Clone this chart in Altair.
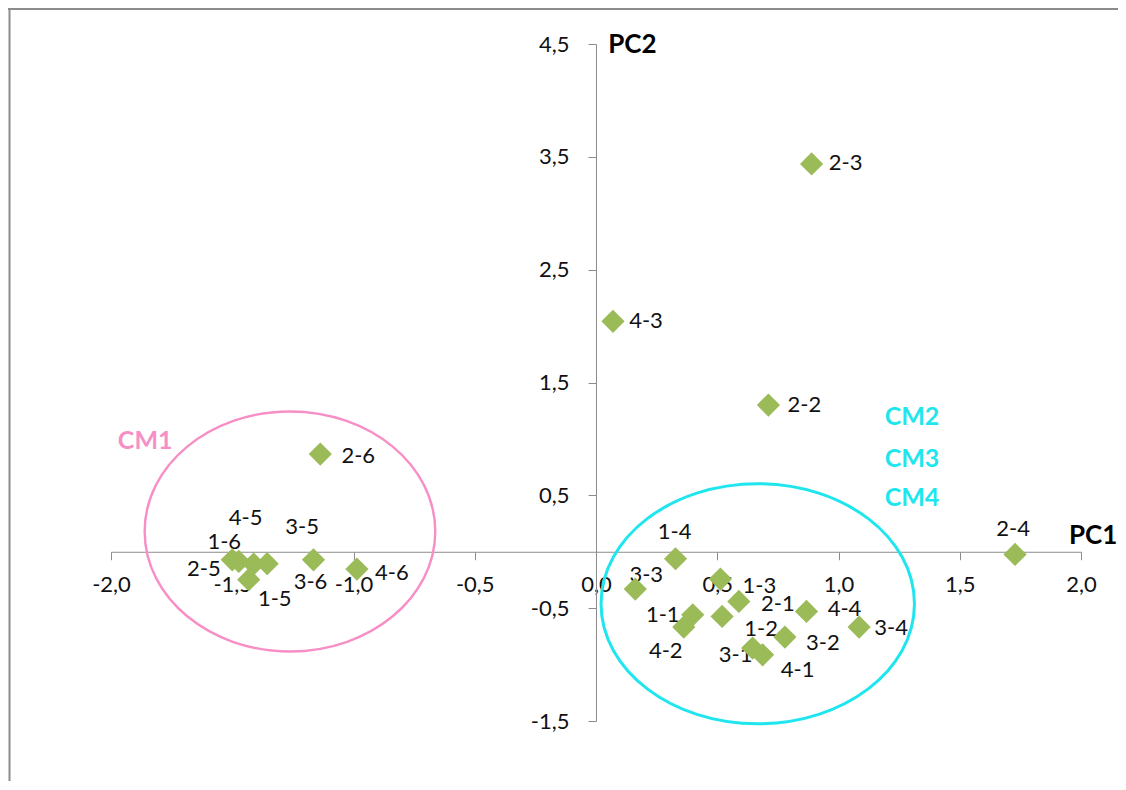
import altair as alt
import pandas as pd

# ---------------- data ----------------
names = ["1-1", "1-2", "1-3", "1-4", "1-5", "1-6",
         "2-1", "2-2", "2-3", "2-4", "2-5", "2-6",
         "3-1", "3-2", "3-3", "3-4", "3-5", "3-6",
         "4-1", "4-2", "4-3", "4-4", "4-5", "4-6"]
pc1 = [0.399, 0.520, 0.513, 0.328, -1.432, -1.500,
       0.589, 0.711, 0.889, 1.728, -1.473, -1.137,
       0.646, 0.779, 0.162, 1.085, -1.356, -1.165,
       0.687, 0.362, 0.070, 0.868, -1.412, -0.986]
pc2 = [-0.559, -0.573, -0.242, -0.062, -0.248, -0.071,
       -0.440, 1.300, 3.437, -0.024, -0.086, 0.866,
       -0.854, -0.756, -0.331, -0.668, -0.106, -0.071,
       -0.913, -0.668, 2.042, -0.529, -0.109, -0.153]

x_ticks = [-2.0, -1.5, -1.0, -0.5, 0.0, 0.5, 1.0, 1.5, 2.0]
y_ticks = [-1.5, -0.5, 0.5, 1.5, 2.5, 3.5, 4.5]

# cluster annotations (centre in data units)
cluster_names = ["CM1", "CM2-4"]
cluster_cx = [-1.262, 0.667]
cluster_cy = [0.180, -0.461]

# text annotations (data units)
ann_text = ["PC2", "PC1", "CM1", "CM2", "CM3", "CM4"]
ann_x = [0.150, 2.050, -1.859, 1.303, 1.303, 1.303]
ann_y = [4.495, 0.136, 0.978, 1.191, 0.824, 0.476]

# ---------------- style / layout ----------------
W, H = 970, 677
PAD = {"left": 103, "top": 36, "right": 37, "bottom": 60}
FONT = "Lato"
GREEN = "#9BBB59"
PINK = "#F78FC6"
CYAN = "#1FE6EE"
AXIS_GREY = "#8C8C8C"
TXT = "#111111"

# label placement offsets in pixels (dx, dy) keyed by point name
label_offsets = {
    "1-1": (-30, 0), "1-2": (39, 13), "1-3": (39, 7), "1-4": (-1, -27),
    "1-5": (26, 19), "1-6": (-8, -18), "2-1": (39, 3), "2-2": (36, 0),
    "2-3": (34, -1), "2-4": (-2, -25), "2-5": (-35, 8), "2-6": (38, 2),
    "3-1": (-17, 7), "3-2": (38, 6), "3-3": (11, -14), "3-4": (32, 1),
    "3-5": (35, -37), "3-6": (-3, 22), "4-1": (35, 15), "4-2": (-18, 24),
    "4-3": (33, 0), "4-4": (38, -2), "4-5": (-8, -46), "4-6": (35, 4),
}

df = pd.DataFrame({"name": names, "pc1": pc1, "pc2": pc2})

label_expr = "(datum.value < 0 ? '-' : '') + replace(format(abs(datum.value), '.1f'), '.', ',')"

xscale = alt.Scale(domain=[-2, 2], nice=False, zero=False)
yscale = alt.Scale(domain=[-1.5, 4.5], nice=False, zero=False)

x_enc = alt.X("pc1:Q", scale=xscale,
              axis=alt.Axis(values=x_ticks, offset=-H / 4, title=None, grid=False,
                            tickSize=8, tickColor=AXIS_GREY, domainColor=AXIS_GREY,
                            labelFont=FONT, labelFontSize=22, labelColor=TXT,
                            labelPadding=15, labelFlush=False, labelOverlap=False,
                            labelExpr=label_expr))
y_enc = alt.Y("pc2:Q", scale=yscale,
              axis=alt.Axis(values=y_ticks, offset=-W / 2, title=None, grid=False,
                            tickSize=8, tickColor=AXIS_GREY, domainColor=AXIS_GREY,
                            labelFont=FONT, labelFontSize=22, labelColor=TXT,
                            labelPadding=19, labelFlush=False, labelOverlap=False,
                            labelExpr=label_expr))

base = alt.Chart(df)

# point labels
label_layers = []
for nm in names:
    dx, dy = label_offsets[nm]
    label_layers.append(
        base.transform_filter(alt.datum.name == nm)
        .mark_text(font=FONT, fontSize=22, color=TXT, align="center",
                   baseline="middle", dx=dx, dy=dy)
        .encode(x=alt.X("pc1:Q", scale=xscale), y=alt.Y("pc2:Q", scale=yscale),
                text="name:N")
    )

points = base.mark_point(shape="diamond", filled=True, size=540, color=GREEN,
                         opacity=1).encode(x=x_enc, y=y_enc)


def ellipse_path(b):
    k = 0.5523
    return (f"M 1 0 C 1 {k*b:.4f} {k:.4f} {b:.4f} 0 {b:.4f} "
            f"C {-k:.4f} {b:.4f} -1 {k*b:.4f} -1 0 "
            f"C -1 {-k*b:.4f} {-k:.4f} {-b:.4f} 0 {-b:.4f} "
            f"C {k:.4f} {-b:.4f} 1 {-k*b:.4f} 1 0 Z")


cl = pd.DataFrame({"cluster": cluster_names, "cx": cluster_cx, "cy": cluster_cy})
ell_pink = alt.Chart(cl).transform_filter(alt.datum.cluster == "CM1").mark_point(
    shape=ellipse_path(120 / 145.3), size=(2 * 145.3) ** 2, filled=False,
    stroke=PINK, strokeWidth=2.4, opacity=1
).encode(x=alt.X("cx:Q", scale=xscale), y=alt.Y("cy:Q", scale=yscale))
ell_cyan = alt.Chart(cl).transform_filter(alt.datum.cluster == "CM2-4").mark_point(
    shape=ellipse_path(120 / 156.7), size=(2 * 156.7) ** 2, filled=False,
    stroke=CYAN, strokeWidth=3, opacity=1
).encode(x=alt.X("cx:Q", scale=xscale), y=alt.Y("cy:Q", scale=yscale))

ann = pd.DataFrame({"t": ann_text, "x": ann_x, "y": ann_y})
ann_colors = {"PC2": "#000000", "PC1": "#000000", "CM1": PINK,
              "CM2": CYAN, "CM3": CYAN, "CM4": CYAN}
ann_sizes = {"PC2": 26, "PC1": 26, "CM1": 25, "CM2": 25, "CM3": 25, "CM4": 25}
ann_layers = []
for t in ann_text:
    ann_layers.append(
        alt.Chart(ann).transform_filter(alt.datum.t == t)
        .mark_text(font=FONT, fontWeight="bold", fontSize=ann_sizes[t],
                   color=ann_colors[t], align="center", baseline="middle")
        .encode(x=alt.X("x:Q", scale=xscale), y=alt.Y("y:Q", scale=yscale), text="t:N")
    )

# outer frame (left and top grey lines)
dummy = alt.Chart(pd.DataFrame({"a": [0]}))
frame_left = dummy.mark_rule(color=AXIS_GREY, strokeWidth=2).encode(
    x=alt.value(-PAD["left"] + 1.5), y=alt.value(-PAD["top"]), y2=alt.value(H + PAD["bottom"]))
frame_top = dummy.mark_rule(color=AXIS_GREY, strokeWidth=2).encode(
    x=alt.value(-PAD["left"]), x2=alt.value(W + PAD["right"]), y=alt.value(-PAD["top"] + 1))

chart = alt.layer(
    ell_pink, ell_cyan, *label_layers, points, *ann_layers, frame_left, frame_top
).properties(
    width=W, height=H,
    autosize=alt.AutoSizeParams(type="none"),
    padding=PAD,
).configure_view(stroke=None)

chart.save("out.html", embed_options={"renderer": "svg", "actions": False})
